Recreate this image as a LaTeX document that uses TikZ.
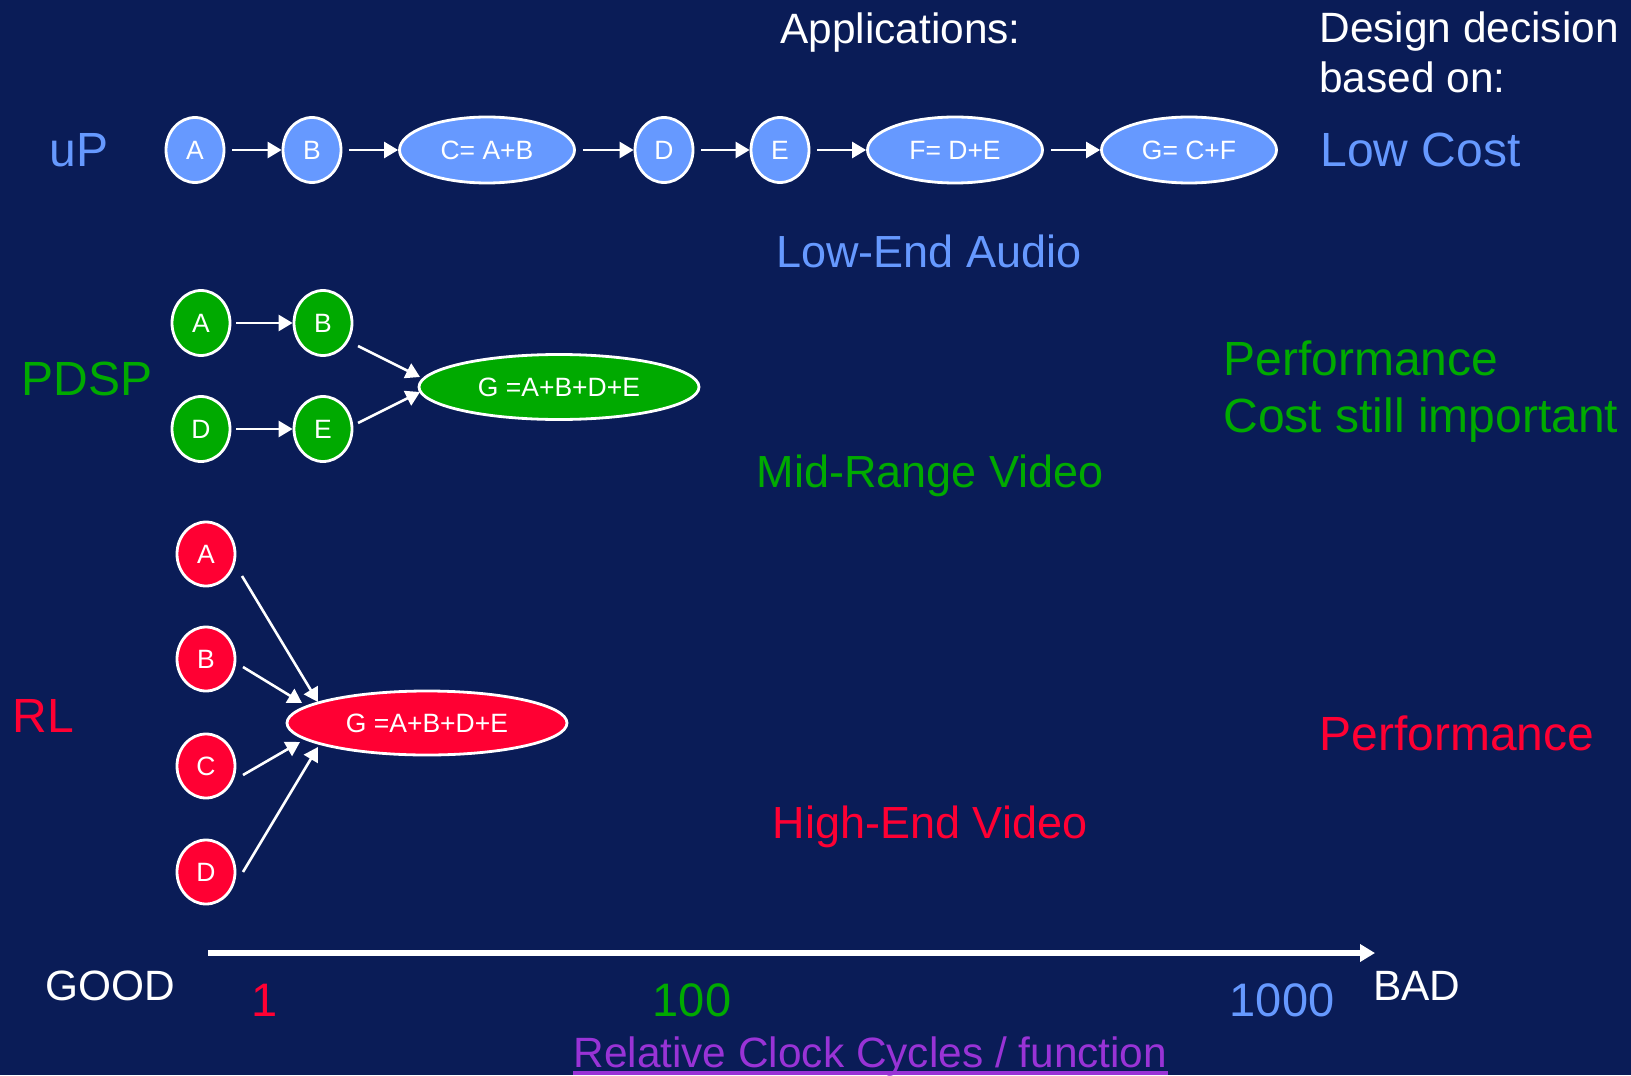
\documentclass[tikz,border=0pt]{standalone}
\usepackage{fontspec}
\setmainfont{Liberation Sans}
\usetikzlibrary{arrows.meta,calc,shapes.geometric}

\definecolor{slidebg}{HTML}{0A1C57}
\definecolor{upblue}{HTML}{6699FF}
\definecolor{dspgreen}{HTML}{00AA00}
\definecolor{rlred}{HTML}{FF0033}
\definecolor{axispurple}{HTML}{9933D6}

\begin{document}
\begin{tikzpicture}[x=0.5pt,y=-0.5pt,
  op/.style={ellipse, draw=white, line width=1.4pt, text=white, inner sep=0pt,
    minimum width=29pt, minimum height=32.5pt, font=\fontsize{13.25}{15}\selectfont},
  wideop/.style={op, minimum width=87.5pt, minimum height=33pt},
  sumop/.style={op, minimum width=140pt, minimum height=32pt},
  flow/.style={draw=white, line width=1.3pt, -{Triangle[length=7pt,width=8pt]}},
  gap/.style={shorten <=3.5pt},
  lbl/.style={inner sep=0pt, anchor=base west},
  big/.style={lbl, font=\fontsize{24}{28}\selectfont},
  mid/.style={lbl, font=\fontsize{21.2}{25}\selectfont},
  app/.style={inner sep=0pt, anchor=base, font=\fontsize{22.5}{26}\selectfont},
  num/.style={inner sep=0pt, anchor=base, font=\fontsize{23.5}{27}\selectfont},
]
% slide background
\fill[slidebg] (0,0) rectangle (1631,1075);
\useasboundingbox (0,0) rectangle (1631,1075);

% column headers
\node[mid, text=white] (hApp) at (780,44) {Applications:};
\node[mid, text=white] (hDes1) at (1319,43) {Design decision};
\node[mid, text=white] (hDes2) at (1319,93) {based on:};

% ---- uP: sequential chain ----
\node[big, text=upblue] (upLbl) at (49,167) {uP};
\node[op, fill=upblue] (uA) at (195,150) {A};
\node[op, fill=upblue] (uB) at (312,150) {B};
\node[wideop, fill=upblue] (uC) at (487,150) {C= A+B};
\node[op, fill=upblue] (uD) at (664,150) {D};
\node[op, fill=upblue] (uE) at (780,150) {E};
\node[wideop, fill=upblue] (uF) at (955,150) {F= D+E};
\node[wideop, fill=upblue] (uG) at (1189,150) {G= C+F};
\draw[flow, gap] (uA) -- (uB);
\draw[flow, gap] (uB) -- (uC);
\draw[flow, gap] (uC) -- (uD);
\draw[flow, gap] (uD) -- (uE);
\draw[flow, gap] (uE) -- (uF);
\draw[flow, gap] (uF) -- (uG);
\node[big, text=upblue] (upWhy) at (1320,167) {Low Cost};
\node[app, text=upblue] (upApp) at (929,267) {Low-End Audio};

% ---- PDSP: two parallel pairs ----
\node[big, text=dspgreen] (pLbl) at (21,395) {PDSP};
\node[op, fill=dspgreen] (pA) at (201,323) {A};
\node[op, fill=dspgreen] (pB) at (323,323) {B};
\node[op, fill=dspgreen] (pD) at (201,429) {D};
\node[op, fill=dspgreen] (pE) at (323,429) {E};
\node[sumop, fill=dspgreen, minimum height=32.5pt] (pG) at (559,387) {G =A+B+D+E};
\draw[flow, shorten <=2.5pt] (pA) -- (pB);
\draw[flow, shorten <=2.5pt] (pD) -- (pE);
\draw[flow] ($(pB.center)+(35,23)$) -- ($(pG.center)+(-139,-10)$);
\draw[flow] ($(pE.center)+(35,-6)$) -- ($(pG.center)+(-139,5)$);
\node[big, text=dspgreen] (pWhy1) at (1223,375) {Performance};
\node[big, text=dspgreen] (pWhy2) at (1223,432) {Cost still important};
\node[app, text=dspgreen] (pApp) at (930,487) {Mid-Range Video};

% ---- RL: fully parallel ----
\node[big, text=rlred] (rLbl) at (12,732) {RL};
\node[op, fill=rlred, minimum height=32pt] (rA) at (206,554) {A};
\node[op, fill=rlred, minimum height=32pt] (rB) at (206,659) {B};
\node[op, fill=rlred, minimum height=32pt] (rC) at (206,766) {C};
\node[op, fill=rlred, minimum height=32pt] (rD) at (206,872) {D};
\node[sumop, fill=rlred] (rG) at (427,723) {G =A+B+D+E};
\draw[flow] ($(rA.center)+(36,22)$) -- ($(rG.center)+(-109,-21)$);
\draw[flow] ($(rB.center)+(37,8)$) -- ($(rG.center)+(-125,-20)$);
\draw[flow] ($(rC.center)+(37,9)$) -- ($(rG.center)+(-127,19)$);
\draw[flow] ($(rD.center)+(37,0)$) -- ($(rG.center)+(-109,24)$);
\node[big, text=rlred] (rWhy) at (1319,750) {Performance};
\node[app, text=rlred] (rApp) at (930,838) {High-End Video};

% ---- axis of relative clock cycles ----
\coordinate (axFrom) at (208,953);
\coordinate (axTo) at (1375,953);
\draw[white, line width=2.8pt, -{Triangle[length=7.5pt,width=8.5pt]}] (axFrom) -- (axTo);
\node[mid, text=white] (good) at (45,1000) {GOOD};
\node[mid, text=white] (bad) at (1373,1000) {BAD};
\node[num, text=rlred] (n1) at (265,1016) {1};
\node[num, text=dspgreen] (n100) at (692,1016) {100};
\node[num, text=upblue] (n1000) at (1282,1016) {1000};
\node[mid, text=axispurple] (rel) at (573,1067) {Relative Clock Cycles / function};
\draw[axispurple, line width=1.7pt] ($(rel.base west)+(0,6)$) -- ($(rel.base east)+(0,6)$);
\end{tikzpicture}
\end{document}
